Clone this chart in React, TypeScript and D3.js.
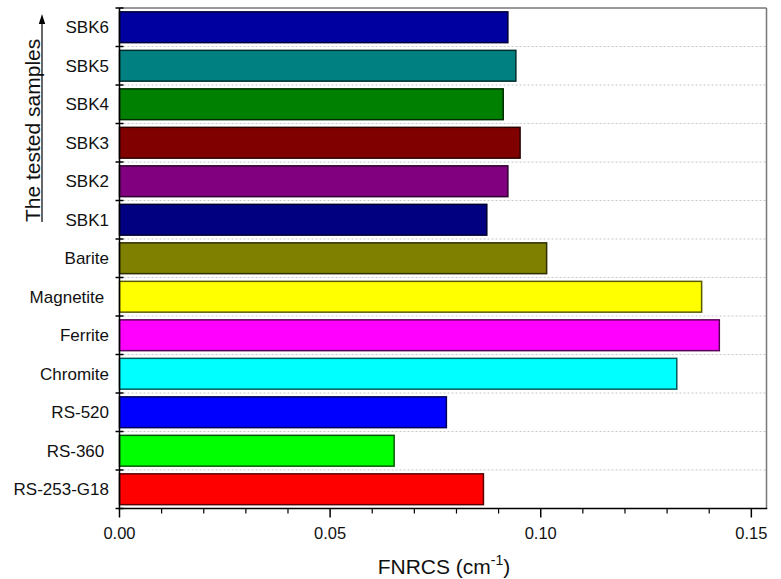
import React from "react";
import * as d3 from "d3";

// Samples, listed top to bottom
const categories = [
  "SBK6", "SBK5", "SBK4", "SBK3", "SBK2", "SBK1",
  "Barite", "Magnetite ", "Ferrite", "Chromite",
  "RS-520", "RS-360 ", "RS-253-G18",
];
// Fast neutron removal cross section (cm^-1)
const fnrcs = [
  0.0922, 0.0941, 0.0911, 0.0951, 0.0922, 0.0872,
  0.1014, 0.1382, 0.1424, 0.1323,
  0.0776, 0.0652, 0.0864,
];
const barColors = [
  "#0000A0", "#008080", "#008000", "#800000", "#800080", "#000080",
  "#808000", "#FFFF00", "#FF00FF", "#00FFFF",
  "#0000FF", "#00FF00", "#FF0000",
];
const majorTicks = [0, 0.05, 0.1, 0.15];

const W = 781;
const H = 579;
const left = 119.5;
const right = 766.5;
const top = 8;
const bottom = 508.5;

export default function App() {
  const x = d3.scaleLinear().domain([0, 0.1536]).range([left, right]);
  const y = d3
    .scaleBand<string>()
    .domain(categories)
    .range([top, bottom])
    .paddingInner(0.2)
    .paddingOuter(0.1);
  const step = y.step();
  const boundaries = d3.range(1, categories.length).map((i) => top + i * step);
  const minorTicks = d3.range(0, 0.155, 0.01).filter(
    (v) => !majorTicks.some((m) => Math.abs(m - v) < 1e-9)
  );
  const fmt = d3.format(".2f");
  const font = "Arial, 'Liberation Sans', sans-serif";

  return (
    <svg
      width={W}
      height={H}
      style={{ position: "absolute", left: 0, top: 0, background: "#fff" }}
      fontFamily={font}
    >
      {/* dotted separators between bands */}
      {boundaries.map((b, i) => (
        <line
          key={"g" + i}
          x1={left}
          x2={right}
          y1={b}
          y2={b}
          stroke="#c8c8c8"
          strokeWidth={1.2}
          strokeDasharray="2,2"
        />
      ))}

      {/* bars */}
      {categories.map((c, i) => (
        <rect
          key={c}
          x={x(0)}
          y={y(c)!}
          width={x(fnrcs[i]) - x(0)}
          height={y.bandwidth()}
          fill={barColors[i]}
          stroke={d3.interpolateRgb(barColors[i], "#000")(0.65)}
          strokeWidth={1.5}
        />
      ))}

      {/* frame */}
      <line x1={left} x2={right} y1={top} y2={top} stroke="#333" strokeWidth={1} />
      <line x1={right} x2={right} y1={top} y2={bottom} stroke="#777" strokeWidth={1.5} />
      <line x1={left} x2={left} y1={top} y2={bottom + 0.75} stroke="#000" strokeWidth={1.5} />
      <line x1={left - 0.75} x2={right + 0.75} y1={bottom} y2={bottom} stroke="#000" strokeWidth={1.5} />

      {/* y ticks at band boundaries */}
      {[top, ...boundaries, bottom].map((b, i) => (
        <line key={"yt" + i} x1={left - 4} x2={left + 4} y1={b} y2={b} stroke="#000" strokeWidth={1.5} />
      ))}

      {/* y tick labels */}
      {categories.map((c) => (
        <text
          key={"yl" + c}
          x={109}
          y={y(c)! + y.bandwidth() / 2}
          dy="0.35em"
          textAnchor="end"
          fontSize={17}
          fill="#111"
          style={{ whiteSpace: "pre" }}
        >
          {c}
        </text>
      ))}

      {/* x ticks */}
      {majorTicks.map((t) => (
        <g key={"xt" + t}>
          <line x1={x(t)} x2={x(t)} y1={bottom} y2={bottom + 9} stroke="#000" strokeWidth={1.5} />
          <text x={x(t)} y={539} textAnchor="middle" fontSize={16.5} fill="#111">
            {fmt(t)}
          </text>
        </g>
      ))}
      {minorTicks.map((t, i) => (
        <line key={"mt" + i} x1={x(t)} x2={x(t)} y1={bottom} y2={bottom + 5} stroke="#000" strokeWidth={1.2} />
      ))}

      {/* x axis title */}
      <text x={444} y={574} textAnchor="middle" fontSize={21} fill="#111">
        FNRCS (cm
        <tspan fontSize={14} dy={-9}>-1</tspan>
        <tspan dy={9}>)</tspan>
      </text>

      {/* y axis title with arrow */}
      <text
        transform="translate(40,222) rotate(-90)"
        x={0}
        y={0}
        textAnchor="start"
        fontSize={21}
        fill="#111"
      >
        The tested samples
      </text>
      <line x1={42} x2={42} y1={222} y2={22} stroke="#000" strokeWidth={1.2} />
      <path d="M42,14 L38.8,24 L45.2,24 Z" fill="#000" />
    </svg>
  );
}
